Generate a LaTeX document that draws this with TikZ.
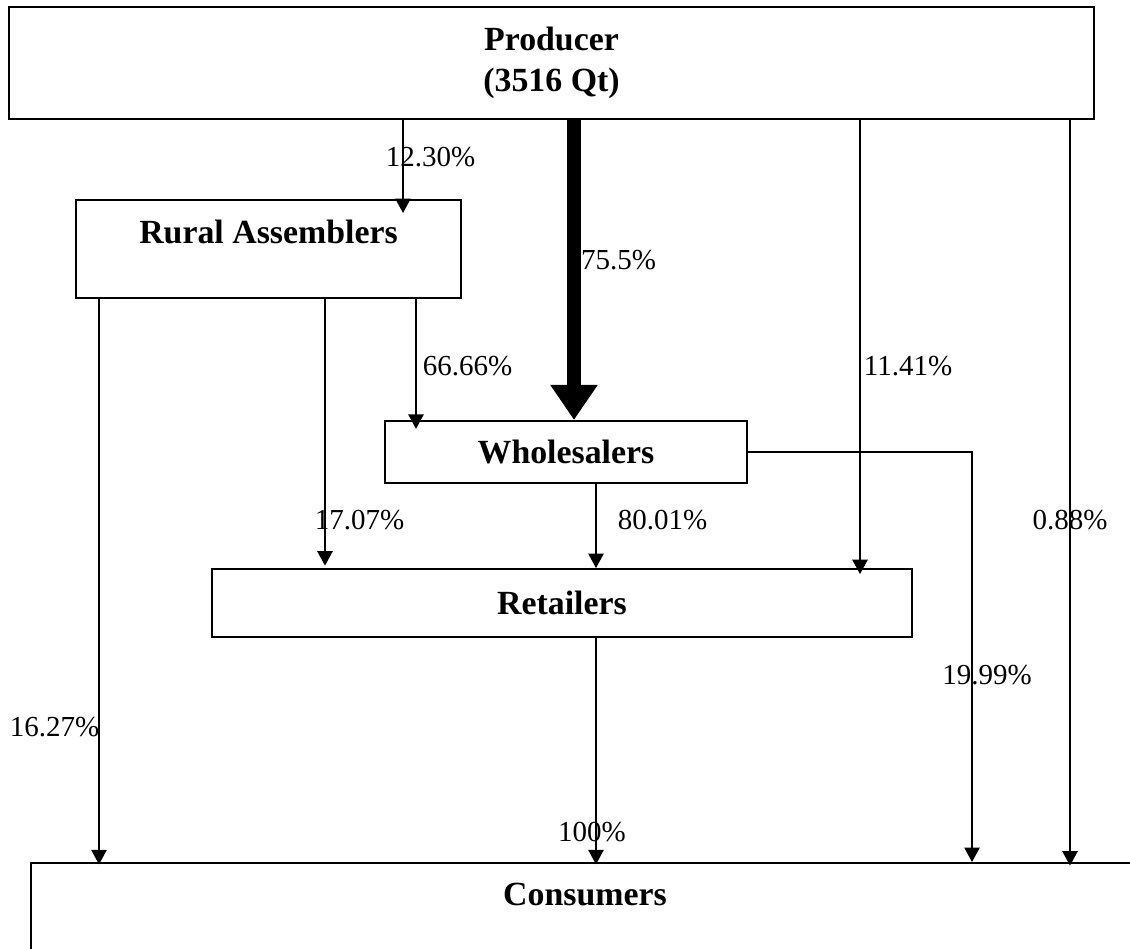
\documentclass[tikz,border=0pt]{standalone}
\usepackage{fontspec}
\setmainfont{Liberation Serif}
\usetikzlibrary{arrows.meta}

\begin{document}
\begin{tikzpicture}[x=0.4138pt, y=-0.4138pt, >={Triangle[length=6pt,width=6.3pt]},
  box/.style={rectangle, draw, line width=0.8pt, align=center, inner sep=0pt,
              font=\fontsize{14}{17}\selectfont\bfseries},
  pct/.style={inner sep=0pt, font=\fontsize{12}{14}\selectfont},
  arr/.style={->, line width=0.8pt}]
  \useasboundingbox (0,0) rectangle (1130,949);
  \node[box, minimum width=449pt, minimum height=46.3pt] (prod) at (551.5,63) {Producer\\(3516 Qt)};
  \node[box, anchor=north, minimum width=159.3pt, text height=18.2pt, text depth=22.3pt] (ra) at (268.5,199) {Rural Assemblers};
  \node[box, minimum width=149.8pt, minimum height=25.7pt] (ws) at (566,452) {Wholesalers};
  \node[box, minimum width=289.7pt, minimum height=28.1pt] (rt) at (562,603) {Retailers};
  \node[box, anchor=north, minimum width=458.5pt, text height=17.8pt, text depth=22.8pt] (cs) at (585,862) {Consumers};
  \coordinate (c12) at (403,0);
  \coordinate (c75) at (574,0);
  \coordinate (c11) at (860,0);
  \coordinate (c08) at (1070,0);
  \coordinate (c16) at (99,0);
  \coordinate (c17) at (325,0);
  \coordinate (c66) at (416,0);
  \coordinate (c80) at (596,0);
  \coordinate (c19) at (972,0);
  \draw[arr, shorten >=-5.8pt] (prod.south -| c12) -- (ra.north -| c12);
  \draw[line width=5.8pt, -{Triangle[length=14.5pt,width=18.6pt]}] (prod.south -| c75) -- (ws.north -| c75);
  \draw[arr, shorten >=-2.5pt] (prod.south -| c11) -- (rt.north -| c11);
  \draw[arr, shorten >=-1.5pt] (prod.south -| c08) -- (cs.north -| c08);
  \draw[arr, shorten >=-1pt] (ra.south -| c16) -- (cs.north -| c16);
  \draw[arr, shorten >=1pt] (ra.south -| c17) -- (rt.north -| c17);
  \draw[arr, shorten >=-3.7pt] (ra.south -| c66) -- (ws.north -| c66);
  \draw[arr] (ws.south -| c80) -- (rt.north -| c80);
  \draw[arr] (ws.east) -| (cs.north -| c19);
  \draw[arr, shorten >=-1pt] (rt.south -| c80) -- (cs.north -| c80);
  \node[pct] (l12) at (430.5,157) {12.30\%};
  \node[pct] (l75) at (618.5,260) {75.5\%};
  \node[pct] (l66) at (467.5,366) {66.66\%};
  \node[pct] (l11) at (908,366) {11.41\%};
  \node[pct] (l17) at (359.5,520.5) {17.07\%};
  \node[pct] (l80) at (662.5,520.5) {80.01\%};
  \node[pct] (l08) at (1070,520) {0.88\%};
  \node[pct] (l19) at (987,675.5) {19.99\%};
  \node[pct] (l16) at (54.5,727.5) {16.27\%};
  \node[pct] (l100) at (592,832) {100\%};
\end{tikzpicture}
\end{document}
